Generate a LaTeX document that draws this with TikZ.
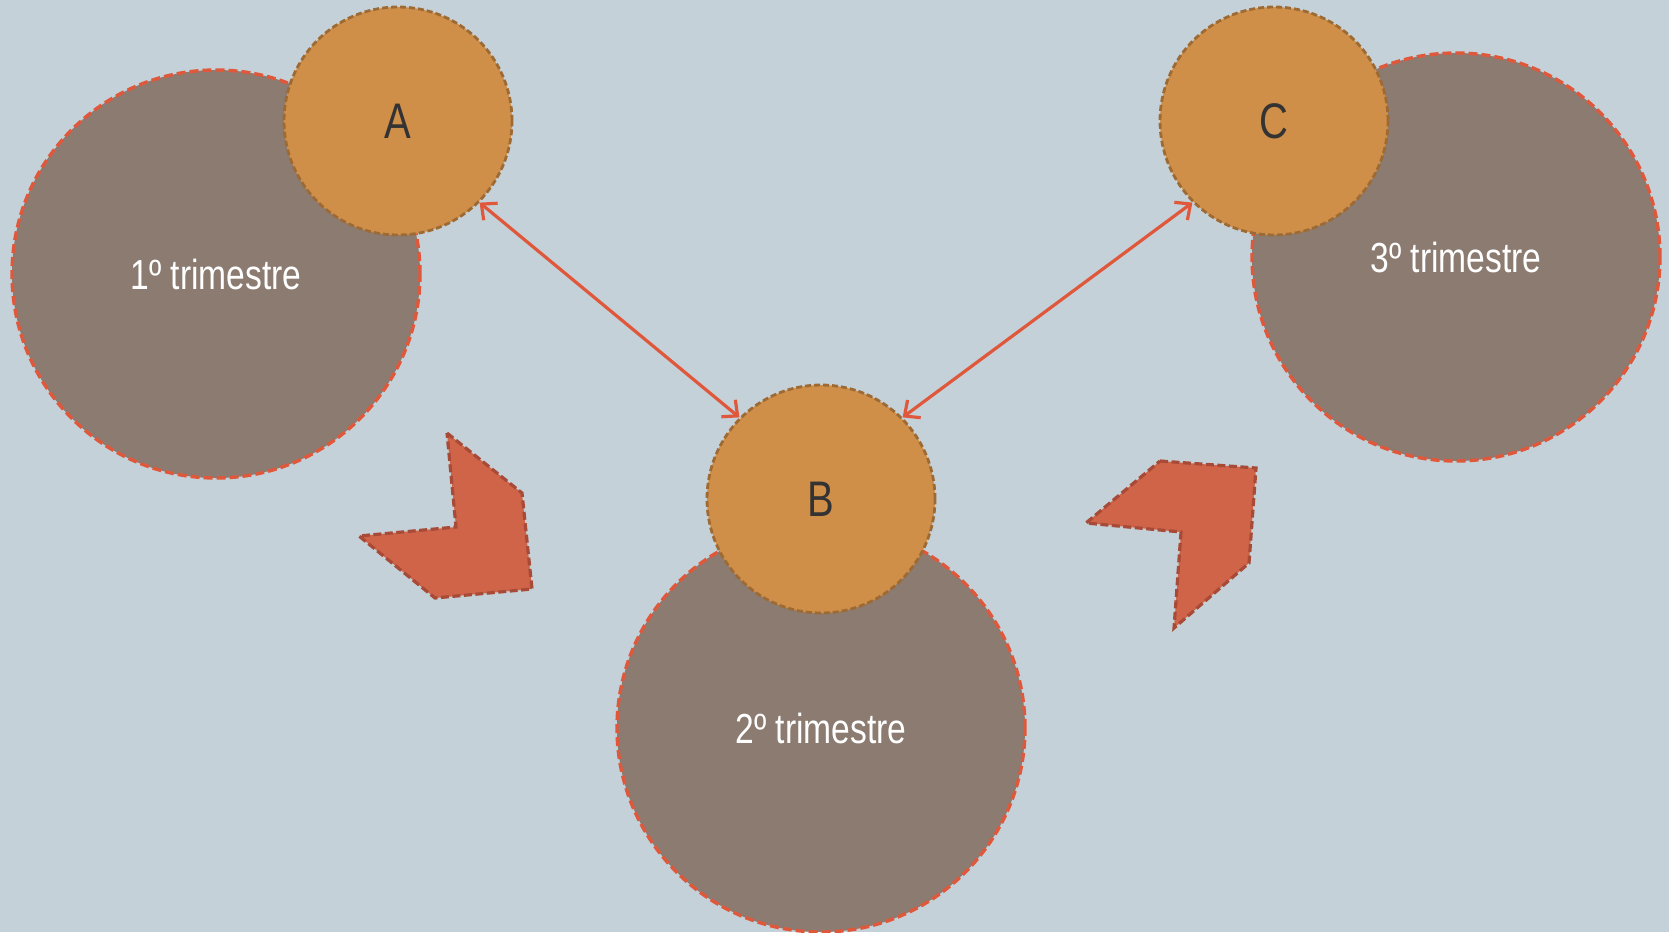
\documentclass[tikz,border=0pt]{standalone}
\usepackage{fontspec}
\setmainfont[FakeStretch=0.8]{Liberation Sans}
\usetikzlibrary{arrows.meta}
\definecolor{bg}{HTML}{C5D1D8}
\definecolor{graycirc}{HTML}{8B7B70}
\definecolor{orangecirc}{HTML}{D08F48}
\definecolor{orangeborder}{HTML}{9E6A34}
\definecolor{redline}{HTML}{E0583C}
\definecolor{shapefill}{HTML}{D06448}
\definecolor{shapeborder}{HTML}{A84A38}
\definecolor{lettercol}{HTML}{333333}
\tikzset{
  bigcirc/.style={circle, fill=graycirc, draw=redline, line width=3.4pt, dash pattern=on 9pt off 4pt, minimum size=408pt, inner sep=0pt, text=white, font=\fontsize{42}{44}\selectfont},
  smallcirc/.style={circle, fill=orangecirc, draw=orangeborder, line width=2.8pt, dash pattern=on 6pt off 3pt, minimum size=228pt, inner sep=0pt, text=lettercol, font=\fontsize{50}{52}\selectfont},
  chevron/.style={fill=shapefill, draw=shapeborder, line width=3.2pt, dash pattern=on 8pt off 3.5pt},
  link/.style={draw=redline, line width=3.2pt, {Straight Barb[length=12pt,width=22pt]}-{Straight Barb[length=12pt,width=22pt]}}
}
\begin{document}
\begin{tikzpicture}[x=1pt,y=-1pt]
\fill[bg] (0,0) rectangle (1669,932);
\useasboundingbox (0,0) rectangle (1669,932);
\node[bigcirc] (t1) at (216,274) {1º trimestre};
\node[smallcirc] (a) at (398,121) {A};
\node[bigcirc] (t2) at (821,728) {2º trimestre};
\node[smallcirc] (b) at (821,499) {B};
\node[bigcirc] (t3) at (1456,257) {3º trimestre};
\node[smallcirc] (c) at (1274,121) {C};
\draw[chevron] (447,433) -- (522,493) -- (532,589) -- (435,598) -- (359,536) -- (456,527) -- cycle;
\draw[chevron] (1160,461) -- (1256,468) -- (1249,563) -- (1174,628) -- (1181,532) -- (1086,523) -- cycle;
\draw[link] (a.-45) -- (b.135);
\draw[link] (b.45) -- (c.-135);
\end{tikzpicture}
\end{document}
